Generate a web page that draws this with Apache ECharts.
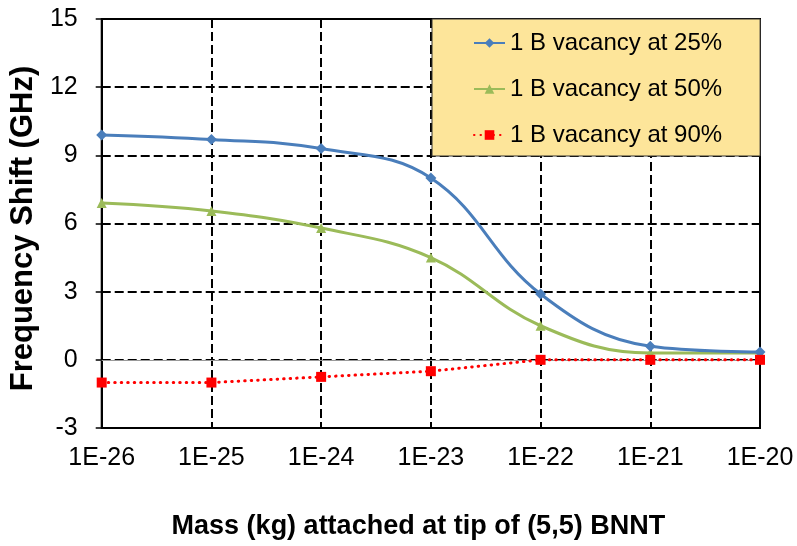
<!DOCTYPE html>
<html>
<head>
<meta charset="utf-8">
<script src="https://cdn.jsdelivr.net/npm/echarts@6/dist/echarts.min.js"></script>
<style>html,body{margin:0;padding:0;background:#fff;}#c{width:797px;height:546px;}</style>
</head>
<body>
<div id="c"></div>
<script>
const categories = ['1E-26','1E-25','1E-24','1E-23','1E-22','1E-21','1E-20'];
const vacancy25 = [9.9, 9.7, 9.3, 8.0, 2.9, 0.6, 0.35];
const vacancy50 = [6.9, 6.55, 5.8, 4.5, 1.5, 0.3, 0.3];
const vacancy90 = [-1.0, -1.0, -0.75, -0.5, 0, 0, 0];
const yTicks = { min: -3, max: 15, interval: 3 };
const seriesNames = ['1 B vacancy at 25%', '1 B vacancy at 50%', '1 B vacancy at 90%'];

const chart = echarts.init(document.getElementById('c'), null, { renderer: 'canvas' });
const font = 'Arial, "Liberation Sans", sans-serif';
chart.setOption({
  animation: false,
  backgroundColor: '#fff',
  grid: { left: 97, right: 37, top: 19, bottom: 118, show: true, borderColor: '#000', borderWidth: 2, backgroundColor: 'transparent' },
  legend: {
    orient: 'vertical', left: 432, top: 19,
    padding: [12, 38, 9, 41],
    backgroundColor: '#FDE59A', borderColor: '#333', borderWidth: 1,
    itemWidth: 31, itemHeight: 12, itemGap: 22,
    textStyle: { fontSize: 24, color: '#000', fontFamily: font },
    data: seriesNames
  },
  xAxis: {
    type: 'category', data: categories, boundaryGap: false,
    axisLine: { show: false }, axisTick: { show: false },
    axisLabel: { fontSize: 25, color: '#000', fontFamily: font, margin: 18 },
    splitLine: { show: true, lineStyle: { color: '#000', width: 2, type: [9, 4] } },
    name: 'Mass (kg) attached at tip of (5,5) BNNT', nameLocation: 'middle', nameGap: 85,
    nameTextStyle: { fontSize: 27, fontWeight: 'bold', color: '#000', fontFamily: font, padding: [0, 25, 0, 0] }
  },
  yAxis: {
    type: 'value', min: yTicks.min, max: yTicks.max, interval: yTicks.interval,
    axisLine: { show: true, onZero: false, lineStyle: { color: '#000', width: 2 } },
    axisTick: { show: true, length: 6, lineStyle: { color: '#000', width: 1.5 } },
    axisLabel: { fontSize: 25, color: '#000', fontFamily: font, margin: 24 },
    splitLine: { show: true, lineStyle: { color: '#000', width: 2, type: [9, 4] } },
    name: 'Frequency Shift (GHz)', nameLocation: 'middle', nameGap: 62,
    nameTextStyle: { fontSize: 31, fontWeight: 'bold', color: '#000', fontFamily: font, padding: [0, 0, 0, -10] }
  },
  series: [
    { name: seriesNames[0], type: 'line', data: vacancy25, smooth: 0.4, symbol: 'diamond', symbolSize: 11,
      itemStyle: { color: '#4A7EBB' }, lineStyle: { color: '#4A7EBB', width: 3 }, z: 4 },
    { name: seriesNames[1], type: 'line', data: vacancy50, smooth: 0.4, symbol: 'triangle', symbolSize: 10,
      itemStyle: { color: '#9BBB59' }, lineStyle: { color: '#9BBB59', width: 3 }, z: 3 },
    { name: seriesNames[2], type: 'line', data: vacancy90, smooth: false, symbol: 'rect', symbolSize: 10,
      itemStyle: { color: '#FF0000' }, lineStyle: { color: '#FF0000', width: 3, type: [0.5, 6], cap: 'round' }, z: 5,
      markLine: { silent: true, symbol: 'none', label: { show: false }, animation: false,
        lineStyle: { color: '#999', width: 1, type: 'solid' }, data: [{ yAxis: 0 }] } }
  ]
});
</script>
</body>
</html>
